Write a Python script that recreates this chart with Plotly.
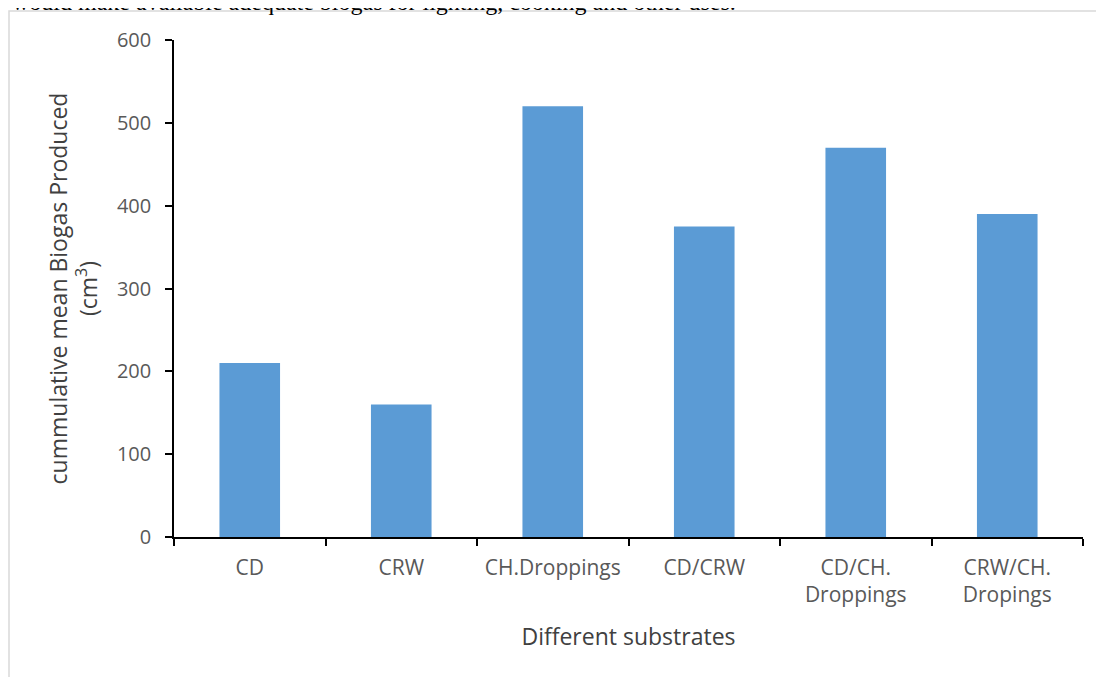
import plotly.graph_objects as go

categories = ["CD", "CRW", "CH.Droppings", "CD/CRW", "CD/CH.<br>Droppings", "CRW/CH.<br>Dropings"]
biogas = [210, 160, 520, 375, 470, 390]
y_ticks = [0, 100, 200, 300, 400, 500, 600]

# page is drawn with an 8px body offset
W, H = 1096, 669
ml, mr, mt, mb = 166, 21, 32, 140
pw, ph = W - ml - mr, H - mt - mb

def px_x(p):
    return (p - ml) / pw

def px_y(p):
    return (H - mb - p) / ph

fig = go.Figure(go.Bar(x=categories, y=biogas, marker_color="#5B9BD5", marker_line_width=0, width=0.4))

fig.update_layout(
    width=W, height=H,
    margin=dict(l=ml, r=mr, t=mt, b=mb),
    paper_bgcolor="white", plot_bgcolor="white",
    font=dict(family="Open Sans", color="#595959"),
    showlegend=False,
    shapes=[dict(type="rect", xref="paper", yref="paper",
                 x0=px_x(1), x1=px_x(1110), y0=px_y(3), y1=px_y(700),
                 line=dict(color="#D9D9D9", width=1.5), layer="below")],
    annotations=[dict(text="would make available adequate biogas for lighting, cooking and other uses.",
                      xref="paper", yref="paper", x=px_x(2), y=px_y(-6),
                      xanchor="left", yanchor="middle", showarrow=False,
                      font=dict(family="Liberation Serif", size=24, color="black"))],
)
fig.update_xaxes(
    showline=True, linecolor="black", linewidth=1.5,
    ticks="outside", tickson="boundaries", ticklen=7, tickcolor="black", tickwidth=1.5,
    tickfont=dict(size=21, color="#595959"), ticklabelstandoff=11,
    title=dict(text="Different substrates", font=dict(size=23, color="#404040"), standoff=22),
)
fig.update_yaxes(
    range=[0, 600], tickvals=y_ticks, showgrid=False, zeroline=False,
    showline=True, linecolor="black", linewidth=1.5,
    ticks="outside", ticklen=7, tickcolor="black", tickwidth=1.5,
    tickfont=dict(size=20, color="#595959"), ticklabelstandoff=10,
    title=dict(text="cummulative mean Biogas Produced<br>(cm<sup>3</sup>)", font=dict(size=23, color="#404040"), standoff=13),
)

fig.write_html("out.html")
